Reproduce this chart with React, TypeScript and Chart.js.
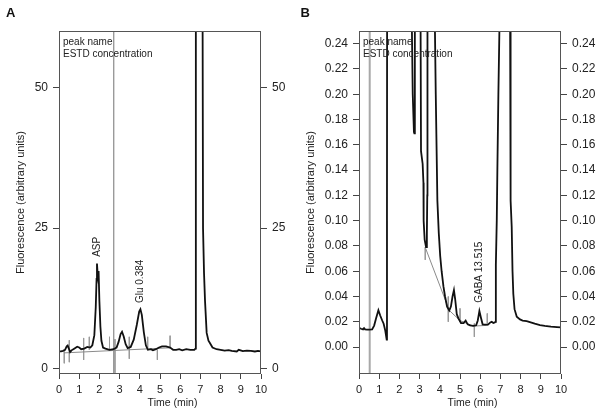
import React, { useEffect, useRef } from "react";
import { Chart, registerables } from "chart.js";

Chart.register(...registerables);

const FONT = "'Liberation Sans', Arial, Helvetica, sans-serif";

type Pt = [number, number];
type Mark = [number, number, number];
type PeakLabel = { text: string; t: number; v: number };

// ---------- Panel A data ----------
const traceA: Pt[] = [
  [0, 3.1], [0.1, 3.1], [0.2, 3.2], [0.3, 3.4], [0.38, 4.0], [0.43, 4.15], [0.5, 3.5], [0.55, 3.0],
  [0.62, 3.3], [0.75, 3.6], [0.9, 3.95], [1.0, 3.8], [1.1, 3.5], [1.25, 3.6], [1.4, 3.9], [1.55, 3.8],
  [1.65, 4.2], [1.75, 6.0], [1.82, 11.0], [1.86, 16.0], [1.88, 18.7], [1.92, 16.5], [1.96, 17.4],
  [2.0, 12.0], [2.05, 7.5], [2.1, 5.0], [2.18, 3.8], [2.3, 3.6], [2.5, 3.4], [2.7, 3.5], [2.85, 3.8],
  [2.95, 4.8], [3.05, 6.2], [3.12, 6.6], [3.2, 5.8], [3.3, 4.4], [3.4, 3.7], [3.55, 3.9], [3.7, 5.2],
  [3.85, 7.8], [3.97, 10.2], [4.03, 10.6], [4.1, 9.6], [4.2, 6.5], [4.3, 4.2], [4.4, 3.4], [4.55, 3.5],
  [4.65, 3.3], [4.8, 3.5], [4.95, 3.8], [5.1, 4.0], [5.3, 4.0], [5.5, 3.8], [5.65, 3.4], [5.8, 3.4],
  [5.95, 3.5], [6.1, 3.3], [6.3, 3.5], [6.5, 3.4], [6.7, 3.4], [6.76, 3.6], [6.77, 8], [6.775, 30],
  [6.78, 60], [6.8, 100], [6.95, 200], [7.1, 100], [7.11, 60], [7.13, 25], [7.18, 17], [7.23, 12],
  [7.31, 6.4], [7.4, 5.0], [7.47, 4.6], [7.6, 3.8], [7.8, 3.5], [8.0, 3.4], [8.2, 3.25], [8.4, 3.35],
  [8.55, 3.2], [8.8, 3.1], [8.9, 3.4], [9.1, 3.15], [9.3, 3.25], [9.5, 3.2], [9.7, 3.1], [9.85, 3.2], [10, 3.1],
];
const baselineA: Pt[] = [[0.25, 2.85], [5.5, 3.75]];
const marksA: Mark[] = [
  [0.26, 3.1, 1.0], [0.51, 5.1, 1.2], [1.22, 5.5, 1.6], [1.5, 5.7, 3.4], [2.5, 5.7, 3.4],
  [2.77, 5.3, -0.7], [3.48, 5.7, 1.8], [4.39, 5.7, 3.7], [4.87, 3.4, 1.6], [5.5, 5.9, 3.7],
];
const markerTimeA = 2.71;
const peakLabelsA: PeakLabel[] = [
  { text: "ASP", t: 1.9, v: 19.9 },
  { text: "Glu 0.384", t: 4.04, v: 11.7 },
];
const yTicksA = [0, 25, 50];

// ---------- Panel B data ----------
const traceB: Pt[] = [
  [0, 0.0153], [0.1, 0.0145], [0.2, 0.014], [0.25, 0.015], [0.3, 0.014], [0.4, 0.0138], [0.5, 0.0138],
  [0.65, 0.014], [0.75, 0.017], [0.85, 0.023], [0.96, 0.0292], [1.05, 0.025], [1.15, 0.021],
  [1.22, 0.0185], [1.3, 0.013], [1.37, 0.006], [1.385, 0.1], [1.4, 0.5], [1.42, 1.0], [1.5, 0.8],
  [2.0, 0.6], [2.5, 0.5], [2.6, 0.4], [2.62, 0.25], [2.66, 0.2], [2.72, 0.17], [2.74, 0.169],
  [2.76, 0.19], [2.77, 0.25], [2.8, 0.5], [2.9, 0.6], [3.0, 0.4], [3.04, 0.27], [3.05, 0.25],
  [3.07, 0.155], [3.15, 0.145], [3.19, 0.13], [3.2, 0.1], [3.25, 0.085], [3.32, 0.079], [3.36, 0.09],
  [3.38, 0.12], [3.39, 0.26], [3.42, 0.5], [3.6, 0.8], [3.74, 0.3], [3.76, 0.25], [3.8, 0.2],
  [3.88, 0.116], [3.95, 0.09], [4.02, 0.072], [4.09, 0.06], [4.18, 0.048], [4.26, 0.04], [4.36, 0.032],
  [4.47, 0.029], [4.55, 0.032], [4.63, 0.04], [4.7, 0.045], [4.76, 0.038], [4.84, 0.026], [4.92, 0.0227],
  [5.05, 0.019], [5.18, 0.019], [5.28, 0.021], [5.38, 0.018], [5.5, 0.0172], [5.65, 0.0168],
  [5.8, 0.0172], [5.88, 0.021], [5.96, 0.0285], [6.04, 0.023], [6.12, 0.018], [6.25, 0.0178],
  [6.4, 0.018], [6.5, 0.0195], [6.57, 0.02], [6.65, 0.019], [6.72, 0.0195], [6.76, 0.02], [6.77, 0.04],
  [6.78, 0.065], [6.82, 0.1], [6.85, 0.14], [6.9, 0.2], [6.95, 0.25], [7.2, 1.0], [7.48, 0.26],
  [7.5, 0.2], [7.51, 0.116], [7.56, 0.095], [7.6, 0.06], [7.64, 0.042], [7.7, 0.03], [7.81, 0.024],
  [7.97, 0.0219], [8.1, 0.021], [8.3, 0.0205], [8.5, 0.0195], [8.7, 0.0185], [8.96, 0.0174],
  [9.2, 0.0168], [9.5, 0.0162], [9.8, 0.0158], [10, 0.0155],
];
const baselineB: Pt[] = [[3.3, 0.078], [4.47, 0.029], [5.0, 0.021], [5.66, 0.0166], [6.4, 0.0172]];
const marksB: Mark[] = [
  [3.28, 0.079, 0.069], [4.42, 0.04, 0.02], [5.0, 0.0306, 0.02], [5.71, 0.0187, 0.0081], [6.35, 0.0266, 0.0187],
];
const markerTimeB = 0.53;
const peakLabelsB: PeakLabel[] = [{ text: "GABA 13.515", t: 5.95, v: 0.035 }];
const yTicksB = [0, 0.02, 0.04, 0.06, 0.08, 0.1, 0.12, 0.14, 0.16, 0.18, 0.2, 0.22, 0.24];

const xTicks = [0, 1, 2, 3, 4, 5, 6, 7, 8, 9, 10];
const noteLines = ["peak name", "ESTD concentration"];

interface PanelSpec {
  letter: string;
  letterX: number;
  trace: Pt[];
  baseline: Pt[];
  marks: Mark[];
  markerTime: number;
  markerColor: string;
  markerWidth: number;
  peaks: PeakLabel[];
  yMin: number;
  yMax: number;
  yTicks: number[];
  decimals: number;
  yTitlePad: number;
}

const specA: PanelSpec = {
  letter: "A", letterX: 6, trace: traceA, baseline: baselineA, marks: marksA,
  markerTime: markerTimeA, markerColor: "#8a8a8a", markerWidth: 1.2, peaks: peakLabelsA,
  yMin: -0.9, yMax: 60, yTicks: yTicksA, decimals: 0, yTitlePad: 14.5,
};
const specB: PanelSpec = {
  letter: "B", letterX: 0.5, trace: traceB, baseline: baselineB, marks: marksB,
  markerTime: markerTimeB, markerColor: "#a8a8a8", markerWidth: 2, peaks: peakLabelsB,
  yMin: -0.0213, yMax: 0.25, yTicks: yTicksB, decimals: 2, yTitlePad: 4.5,
};

function overlayPlugin(spec: PanelSpec) {
  return {
    id: "overlay" + spec.letter,
    afterDraw(chart: any) {
      const { ctx, chartArea: a, scales } = chart;
      const sx = scales.x;
      const sy = scales.y;
      ctx.save();
      // frame
      ctx.strokeStyle = "#555";
      ctx.lineWidth = 1;
      ctx.strokeRect(Math.floor(a.left) + 0.5, Math.floor(a.top) + 0.5, Math.round(a.right - a.left) - 1, Math.round(a.bottom - a.top) - 1);
      // panel letter
      ctx.fillStyle = "#111";
      ctx.font = `bold 13px ${FONT}`;
      ctx.textAlign = "left";
      ctx.textBaseline = "alphabetic";
      ctx.fillText(spec.letter, spec.letterX, 16.7);
      // notes
      ctx.fillStyle = "#222";
      ctx.font = `10px ${FONT}`;
      ctx.textBaseline = "middle";
      noteLines.forEach((line, i) => ctx.fillText(line, a.left + 4, 42.7 + i * 11.6));
      // x title
      ctx.font = `10.5px ${FONT}`;
      ctx.textAlign = "center";
      ctx.fillText("Time (min)", (a.left + a.right) / 2 + 12.5, 403.5);
      // rotated peak labels
      ctx.font = `10px ${FONT}`;
      ctx.textAlign = "left";
      ctx.textBaseline = "middle";
      spec.peaks.forEach((p) => {
        ctx.save();
        ctx.translate(sx.getPixelForValue(p.t), sy.getPixelForValue(p.v));
        ctx.rotate(-Math.PI / 2);
        ctx.fillText(p.text, 0, 0);
        ctx.restore();
      });
      ctx.restore();
    },
  };
}

function Panel({ spec }: { spec: PanelSpec }) {
  const ref = useRef<HTMLCanvasElement | null>(null);
  useEffect(() => {
    if (!ref.current) return;
    const tickCb = (v: any) => Number(v).toFixed(spec.decimals);
    const markData: any[] = [];
    spec.marks.forEach(([t, a, b]) => {
      markData.push({ x: t, y: a }, { x: t, y: b }, { x: t, y: null });
    });
    const yCommon = (position: "left" | "right") => ({
      type: "linear" as const,
      position,
      min: spec.yMin,
      max: spec.yMax,
      afterBuildTicks: (ax: any) => {
        ax.ticks = spec.yTicks.map((v) => ({ value: v }));
      },
      ticks: { font: { family: FONT, size: 12 }, color: "#222", padding: 5, callback: tickCb },
      grid: { drawOnChartArea: false, drawTicks: true, tickLength: 6, color: "#444" },
      border: { display: false },
    });
    const chart = new Chart(ref.current, {
      type: "line",
      data: {
        datasets: [
          {
            data: spec.trace.map(([x, y]) => ({ x, y })),
            borderColor: "#111",
            borderWidth: 1.8,
            pointRadius: 0,
          },
          {
            data: spec.baseline.map(([x, y]) => ({ x, y })),
            borderColor: "#8a8a8a",
            borderWidth: 1,
            pointRadius: 0,
          },
          {
            data: markData,
            borderColor: "#9a9a9a",
            borderWidth: 1,
            pointRadius: 0,
            spanGaps: false,
          },
          {
            data: [
              { x: spec.markerTime, y: spec.yMin },
              { x: spec.markerTime, y: spec.yMax },
            ],
            borderColor: spec.markerColor,
            borderWidth: spec.markerWidth,
            pointRadius: 0,
          },
        ],
      },
      options: {
        responsive: false,
        animation: false,
        layout: { padding: { top: 31, left: 0, right: 0, bottom: 0 } },
        plugins: { legend: { display: false }, tooltip: { enabled: false }, title: { display: false } },
        elements: { line: { tension: 0 }, point: { radius: 0 } },
        scales: {
          x: {
            type: "linear",
            position: "bottom",
            min: 0,
            max: 10,
            afterBuildTicks: (ax: any) => {
              ax.ticks = xTicks.map((v) => ({ value: v }));
            },
            ticks: { font: { family: FONT, size: 11 }, color: "#222", padding: 4, maxRotation: 0, autoSkip: false },
            grid: { drawOnChartArea: false, drawTicks: true, tickLength: 5, color: "#444" },
            border: { display: false },
            afterFit: (s: any) => {
              s.height = 41;
            },
          },
          y: {
            ...yCommon("left"),
            title: {
              display: true,
              text: "Fluorescence (arbitrary units)",
              font: { family: FONT, size: 11 },
              color: "#222",
              padding: { top: spec.yTitlePad, bottom: 0 },
            },
            afterFit: (s: any) => {
              s.width = 59;
            },
          },
          y2: {
            ...yCommon("right"),
            afterFit: (s: any) => {
              s.width = 39;
            },
          },
        },
      } as any,
      plugins: [overlayPlugin(spec)],
    });
    return () => chart.destroy();
  }, [spec]);
  return <canvas ref={ref} width={300} height={415} style={{ display: "block", width: 300, height: 415 }} />;
}

export default function App() {
  return (
    <div style={{ position: "fixed", left: 0, top: 0, width: 600, height: 415, display: "flex", background: "#fff" }}>
      <Panel spec={specA} />
      <Panel spec={specB} />
    </div>
  );
}
